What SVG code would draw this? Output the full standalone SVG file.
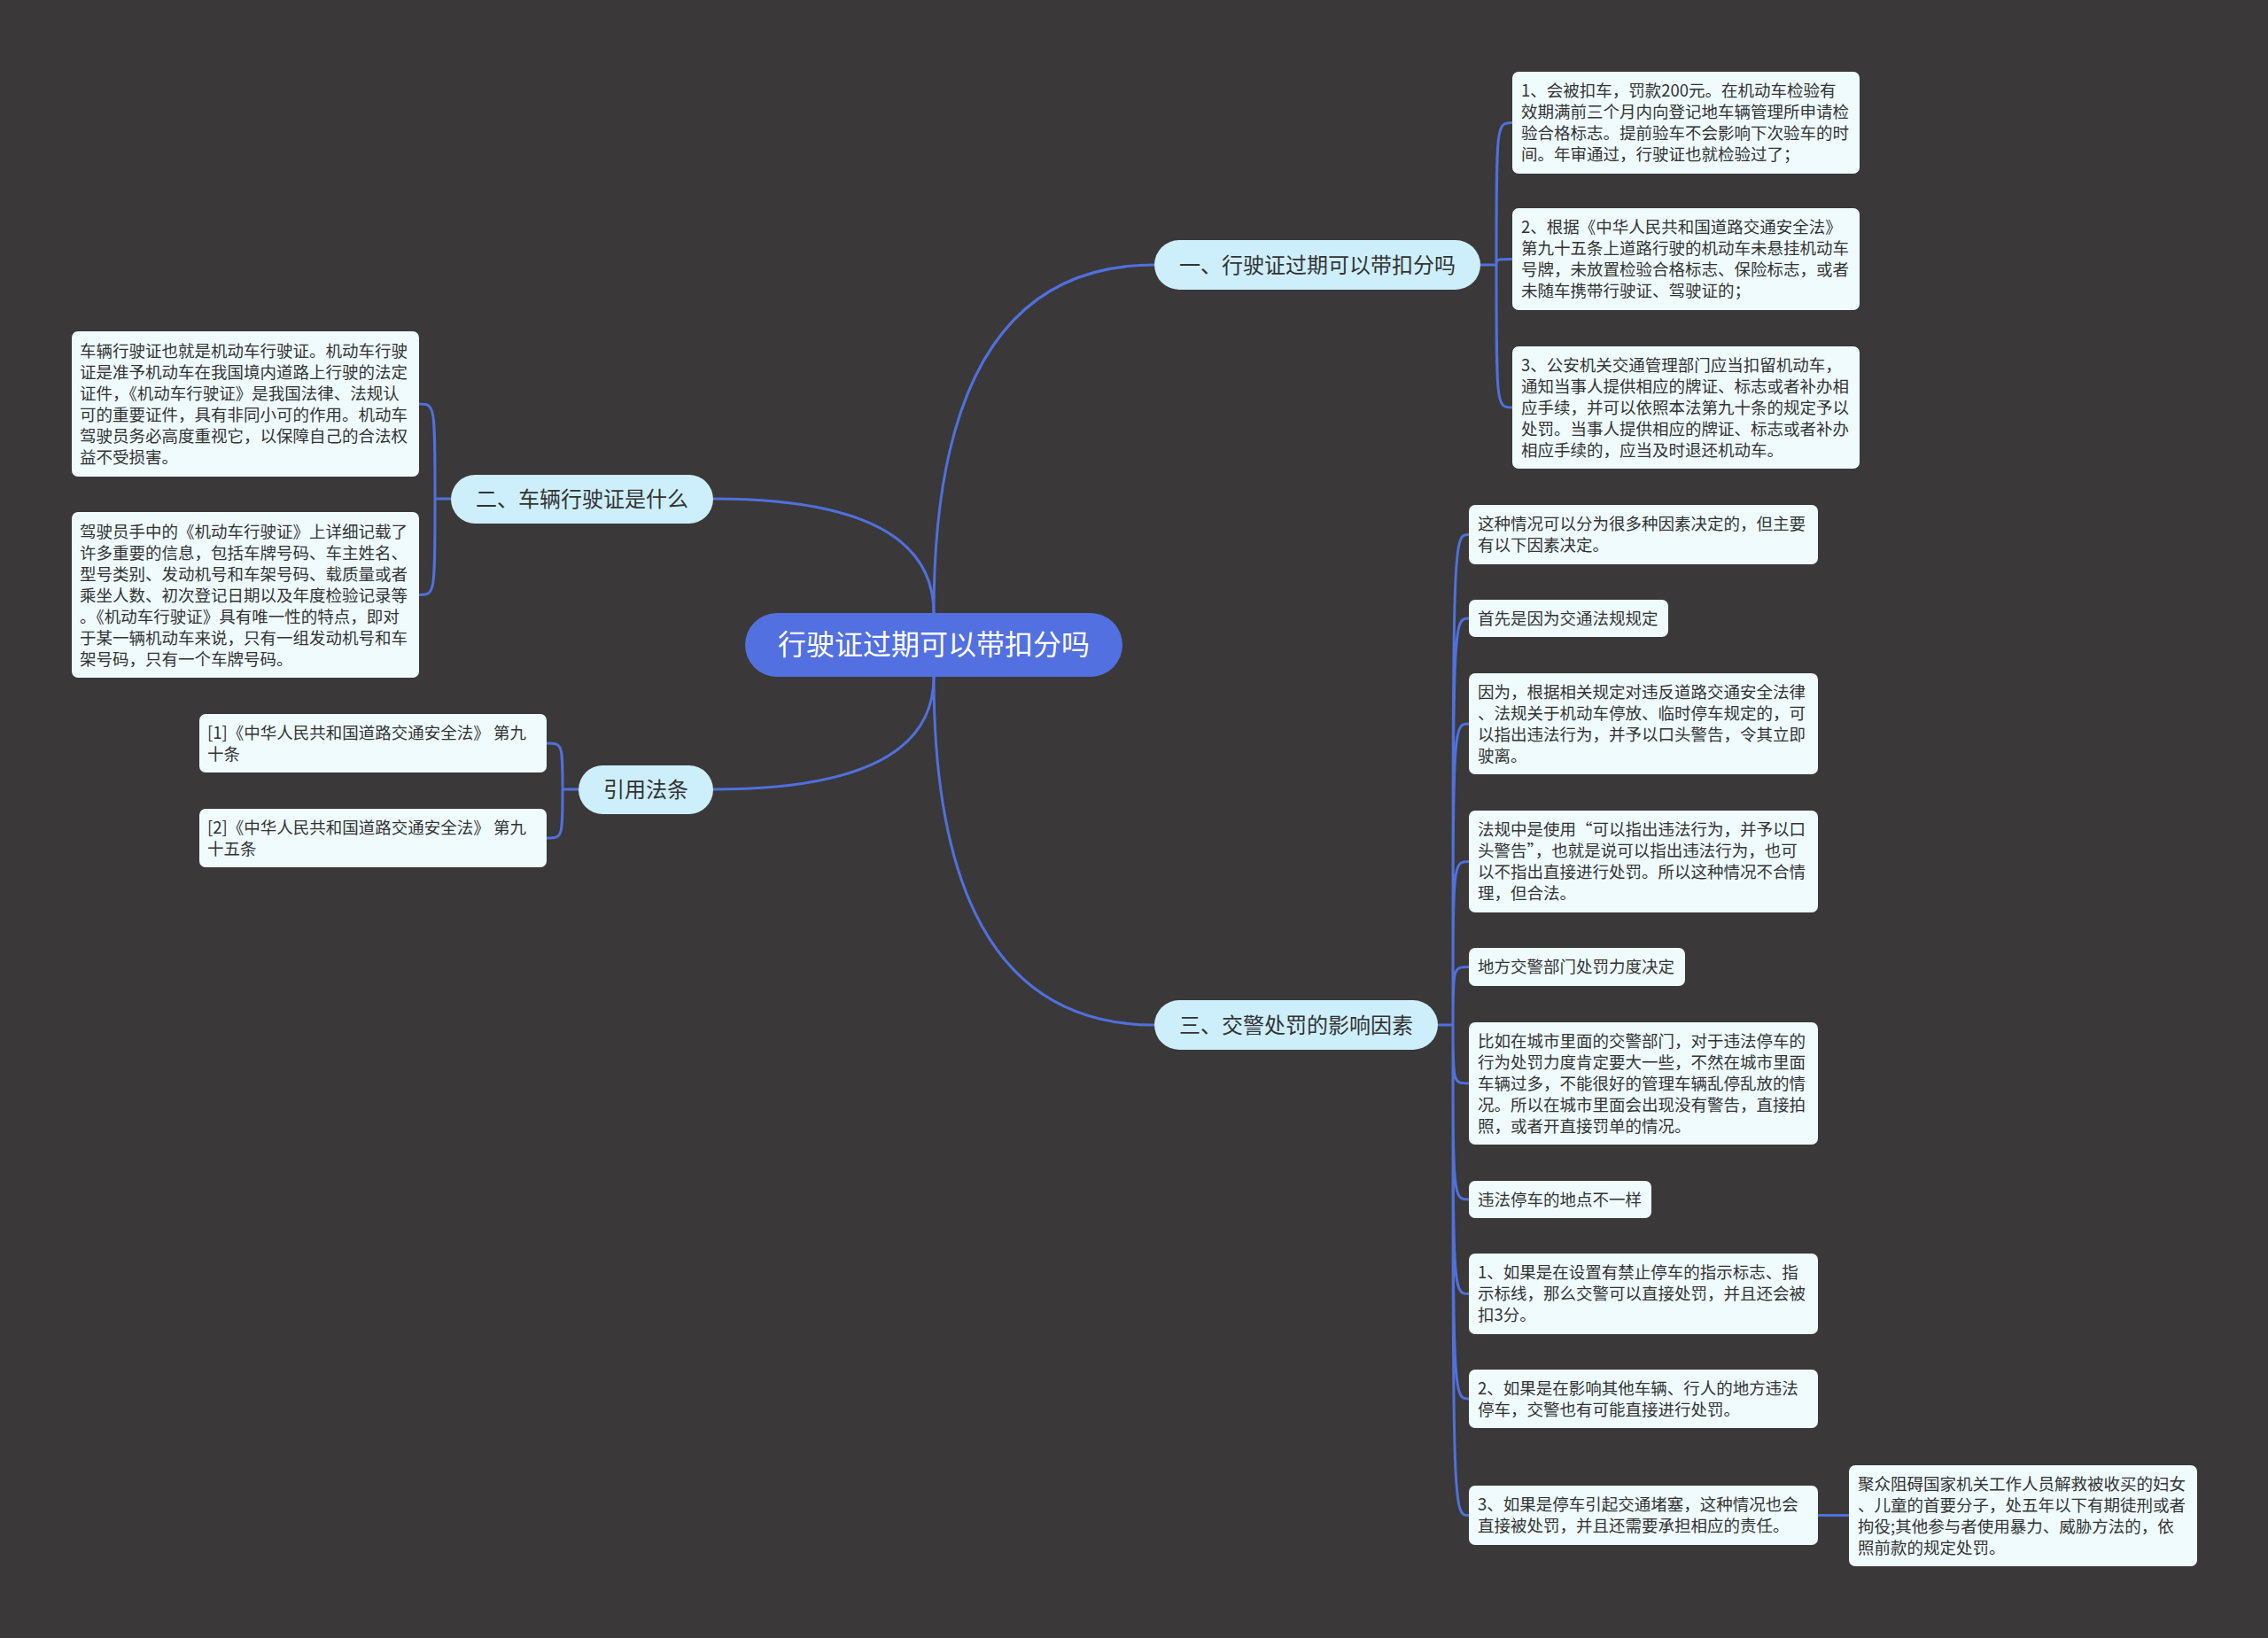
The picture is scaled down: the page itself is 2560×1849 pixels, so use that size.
<svg xmlns="http://www.w3.org/2000/svg" width="2560" height="1849" viewBox="0 0 2560 1849">
<style>
text{font-family:"Noto Sans CJK SC","Noto Sans",sans-serif;fill:#333333}
.leaf rect{fill:#effbfd}
.leaf text{font-size:18.5px}
.branch rect{fill:#cdeefb}
.branch text{font-size:24px;text-anchor:middle}
.conn path{fill:none;stroke:#5070dc;stroke-width:3;stroke-linecap:round}
</style>
<rect x="0" y="0" width="2560" height="1849" fill="#3a3839"/>
<g class="conn" id="connectors">
<path d="M1054 692 Q1054 299 1303 299"/>
<path d="M1054 692 Q1054 563 805 563"/>
<path d="M1054 764 Q1054 891 805 891"/>
<path d="M1054 764 Q1054 1157 1303 1157"/>
<path d="M1671 299 H1689 M1689 299 C1689 138.5 1689 138.5 1707 138.5 M1689 299 C1689 292.5 1689 292.5 1707 292.5 M1689 299 C1689 460 1689 460 1707 460"/>
<path d="M509 563 H491 M491 563 C491 456 491 456 473 456 M491 563 C491 671.5 491 671.5 473 671.5"/>
<path d="M653 891 H635 M635 891 C635 839 635 839 617 839 M635 891 C635 946 635 946 617 946"/>
<path d="M1623 1157 H1640 M1640 1157 C1640 603.5 1640 603.5 1658 603.5 M1640 1157 C1640 698 1640 698 1658 698 M1640 1157 C1640 817 1640 817 1658 817 M1640 1157 C1640 972.5 1640 972.5 1658 972.5 M1640 1157 C1640 1091.5 1640 1091.5 1658 1091.5 M1640 1157 C1640 1223 1640 1223 1658 1223 M1640 1157 C1640 1354 1640 1354 1658 1354 M1640 1157 C1640 1460.5 1640 1460.5 1658 1460.5 M1640 1157 C1640 1579 1640 1579 1658 1579 M1640 1157 C1640 1710.5 1640 1710.5 1658 1710.5"/>
<path d="M2052 1710.5 H2087"/>
</g>
<g id="root">
<rect x="841" y="692" width="426" height="72" rx="36" fill="#5370e0"/>
<text x="1054" y="739" style="font-size:32px;text-anchor:middle;fill:#ffffff">行驶证过期可以带扣分吗</text>
</g>
<g id="b1" class="branch"><rect x="1303" y="271" width="368" height="56" rx="28"/><text x="1487" y="307.5">一、行驶证过期可以带扣分吗</text></g>
<g id="b2" class="branch"><rect x="509" y="536" width="296" height="55" rx="27.5"/><text x="657" y="571.5">二、车辆行驶证是什么</text></g>
<g id="b3" class="branch"><rect x="653" y="864" width="152" height="55" rx="27.5"/><text x="729" y="899.5">引用法条</text></g>
<g id="b4" class="branch"><rect x="1303" y="1129" width="320" height="56" rx="28"/><text x="1463" y="1165.5">三、交警处罚的影响因素</text></g>

<g id="l1a" class="leaf"><rect x="1707" y="81" width="392" height="115" rx="7"/>
<text x="1717" y="108.5">1、会被扣车，罚款200元。在机动车检验有</text>
<text x="1717" y="132.5">效期满前三个月内向登记地车辆管理所申请检</text>
<text x="1717" y="156.5">验合格标志。提前验车不会影响下次验车的时</text>
<text x="1717" y="180.5">间。年审通过，行驶证也就检验过了；</text></g>
<g id="l1b" class="leaf"><rect x="1707" y="235" width="392" height="115" rx="7"/>
<text x="1717" y="262.5">2、根据《中华人民共和国道路交通安全法》</text>
<text x="1717" y="286.5">第九十五条上道路行驶的机动车未悬挂机动车</text>
<text x="1717" y="310.5">号牌，未放置检验合格标志、保险标志，或者</text>
<text x="1717" y="334.5">未随车携带行驶证、驾驶证的；</text></g>
<g id="l1c" class="leaf"><rect x="1707" y="391" width="392" height="138" rx="7"/>
<text x="1717" y="418.5">3、公安机关交通管理部门应当扣留机动车，</text>
<text x="1717" y="442.5">通知当事人提供相应的牌证、标志或者补办相</text>
<text x="1717" y="466.5">应手续，并可以依照本法第九十条的规定予以</text>
<text x="1717" y="490.5">处罚。当事人提供相应的牌证、标志或者补办</text>
<text x="1717" y="514.5">相应手续的，应当及时退还机动车。</text></g>

<g id="l2a" class="leaf"><rect x="81" y="374" width="392" height="164" rx="7"/>
<text x="90" y="402.5">车辆行驶证也就是机动车行驶证。机动车行驶</text>
<text x="90" y="426.5">证是准予机动车在我国境内道路上行驶的法定</text>
<text x="90" y="450.5">证件，《机动车行驶证》是我国法律、法规认</text>
<text x="90" y="474.5">可的重要证件，具有非同小可的作用。机动车</text>
<text x="90" y="498.5">驾驶员务必高度重视它，以保障自己的合法权</text>
<text x="90" y="522.5">益不受损害。</text></g>
<g id="l2b" class="leaf"><rect x="81" y="578" width="392" height="187" rx="7"/>
<text x="90" y="606.5">驾驶员手中的《机动车行驶证》上详细记载了</text>
<text x="90" y="630.5">许多重要的信息，包括车牌号码、车主姓名、</text>
<text x="90" y="654.5">型号类别、发动机号和车架号码、载质量或者</text>
<text x="90" y="678.5">乘坐人数、初次登记日期以及年度检验记录等</text>
<text x="90" y="702.5">。《机动车行驶证》具有唯一性的特点，即对</text>
<text x="90" y="726.5">于某一辆机动车来说，只有一组发动机号和车</text>
<text x="90" y="750.5">架号码，只有一个车牌号码。</text></g>

<g id="l3a" class="leaf"><rect x="225" y="806" width="392" height="66" rx="7"/>
<text x="234" y="833.5">[1]《中华人民共和国道路交通安全法》 第九</text>
<text x="234" y="857.5">十条</text></g>
<g id="l3b" class="leaf"><rect x="225" y="913" width="392" height="66" rx="7"/>
<text x="234" y="940.5">[2]《中华人民共和国道路交通安全法》 第九</text>
<text x="234" y="964.5">十五条</text></g>

<g id="l4a" class="leaf"><rect x="1658" y="570" width="394" height="67" rx="7"/>
<text x="1668" y="597.5">这种情况可以分为很多种因素决定的，但主要</text>
<text x="1668" y="621.5">有以下因素决定。</text></g>
<g id="l4b" class="leaf"><rect x="1658" y="677" width="225" height="42" rx="7"/>
<text x="1668" y="704.5">首先是因为交通法规规定</text></g>
<g id="l4c" class="leaf"><rect x="1658" y="760" width="394" height="114" rx="7"/>
<text x="1668" y="787.5">因为，根据相关规定对违反道路交通安全法律</text>
<text x="1668" y="811.5">、法规关于机动车停放、临时停车规定的，可</text>
<text x="1668" y="835.5">以指出违法行为，并予以口头警告，令其立即</text>
<text x="1668" y="859.5">驶离。</text></g>
<g id="l4d" class="leaf"><rect x="1658" y="915" width="394" height="115" rx="7"/>
<text x="1668" y="942.5">法规中是使用“可以指出违法行为，并予以口</text>
<text x="1668" y="966.5">头警告”，也就是说可以指出违法行为，也可</text>
<text x="1668" y="990.5">以不指出直接进行处罚。所以这种情况不合情</text>
<text x="1668" y="1014.5">理，但合法。</text></g>
<g id="l4e" class="leaf"><rect x="1658" y="1070" width="244" height="43" rx="7"/>
<text x="1668" y="1098">地方交警部门处罚力度决定</text></g>
<g id="l4f" class="leaf"><rect x="1658" y="1154" width="394" height="138" rx="7"/>
<text x="1668" y="1181.5">比如在城市里面的交警部门，对于违法停车的</text>
<text x="1668" y="1205.5">行为处罚力度肯定要大一些，不然在城市里面</text>
<text x="1668" y="1229.5">车辆过多，不能很好的管理车辆乱停乱放的情</text>
<text x="1668" y="1253.5">况。所以在城市里面会出现没有警告，直接拍</text>
<text x="1668" y="1277.5">照，或者开直接罚单的情况。</text></g>
<g id="l4g" class="leaf"><rect x="1658" y="1333" width="206" height="42" rx="7"/>
<text x="1668" y="1360.5">违法停车的地点不一样</text></g>
<g id="l4h" class="leaf"><rect x="1658" y="1415" width="394" height="91" rx="7"/>
<text x="1668" y="1442.5">1、如果是在设置有禁止停车的指示标志、指</text>
<text x="1668" y="1466.5">示标线，那么交警可以直接处罚，并且还会被</text>
<text x="1668" y="1490.5">扣3分。</text></g>
<g id="l4i" class="leaf"><rect x="1658" y="1546" width="394" height="66" rx="7"/>
<text x="1668" y="1573.5">2、如果是在影响其他车辆、行人的地方违法</text>
<text x="1668" y="1597.5">停车，交警也有可能直接进行处罚。</text></g>
<g id="l4j" class="leaf"><rect x="1658" y="1677" width="394" height="67" rx="7"/>
<text x="1668" y="1704.5">3、如果是停车引起交通堵塞，这种情况也会</text>
<text x="1668" y="1728.5">直接被处罚，并且还需要承担相应的责任。</text></g>
<g id="l4k" class="leaf"><rect x="2087" y="1654" width="393" height="114" rx="7"/>
<text x="2097" y="1681.5">聚众阻碍国家机关工作人员解救被收买的妇女</text>
<text x="2097" y="1705.5">、儿童的首要分子，处五年以下有期徒刑或者</text>
<text x="2097" y="1729.5">拘役;其他参与者使用暴力、威胁方法的，依</text>
<text x="2097" y="1753.5">照前款的规定处罚。</text></g>
</svg>
